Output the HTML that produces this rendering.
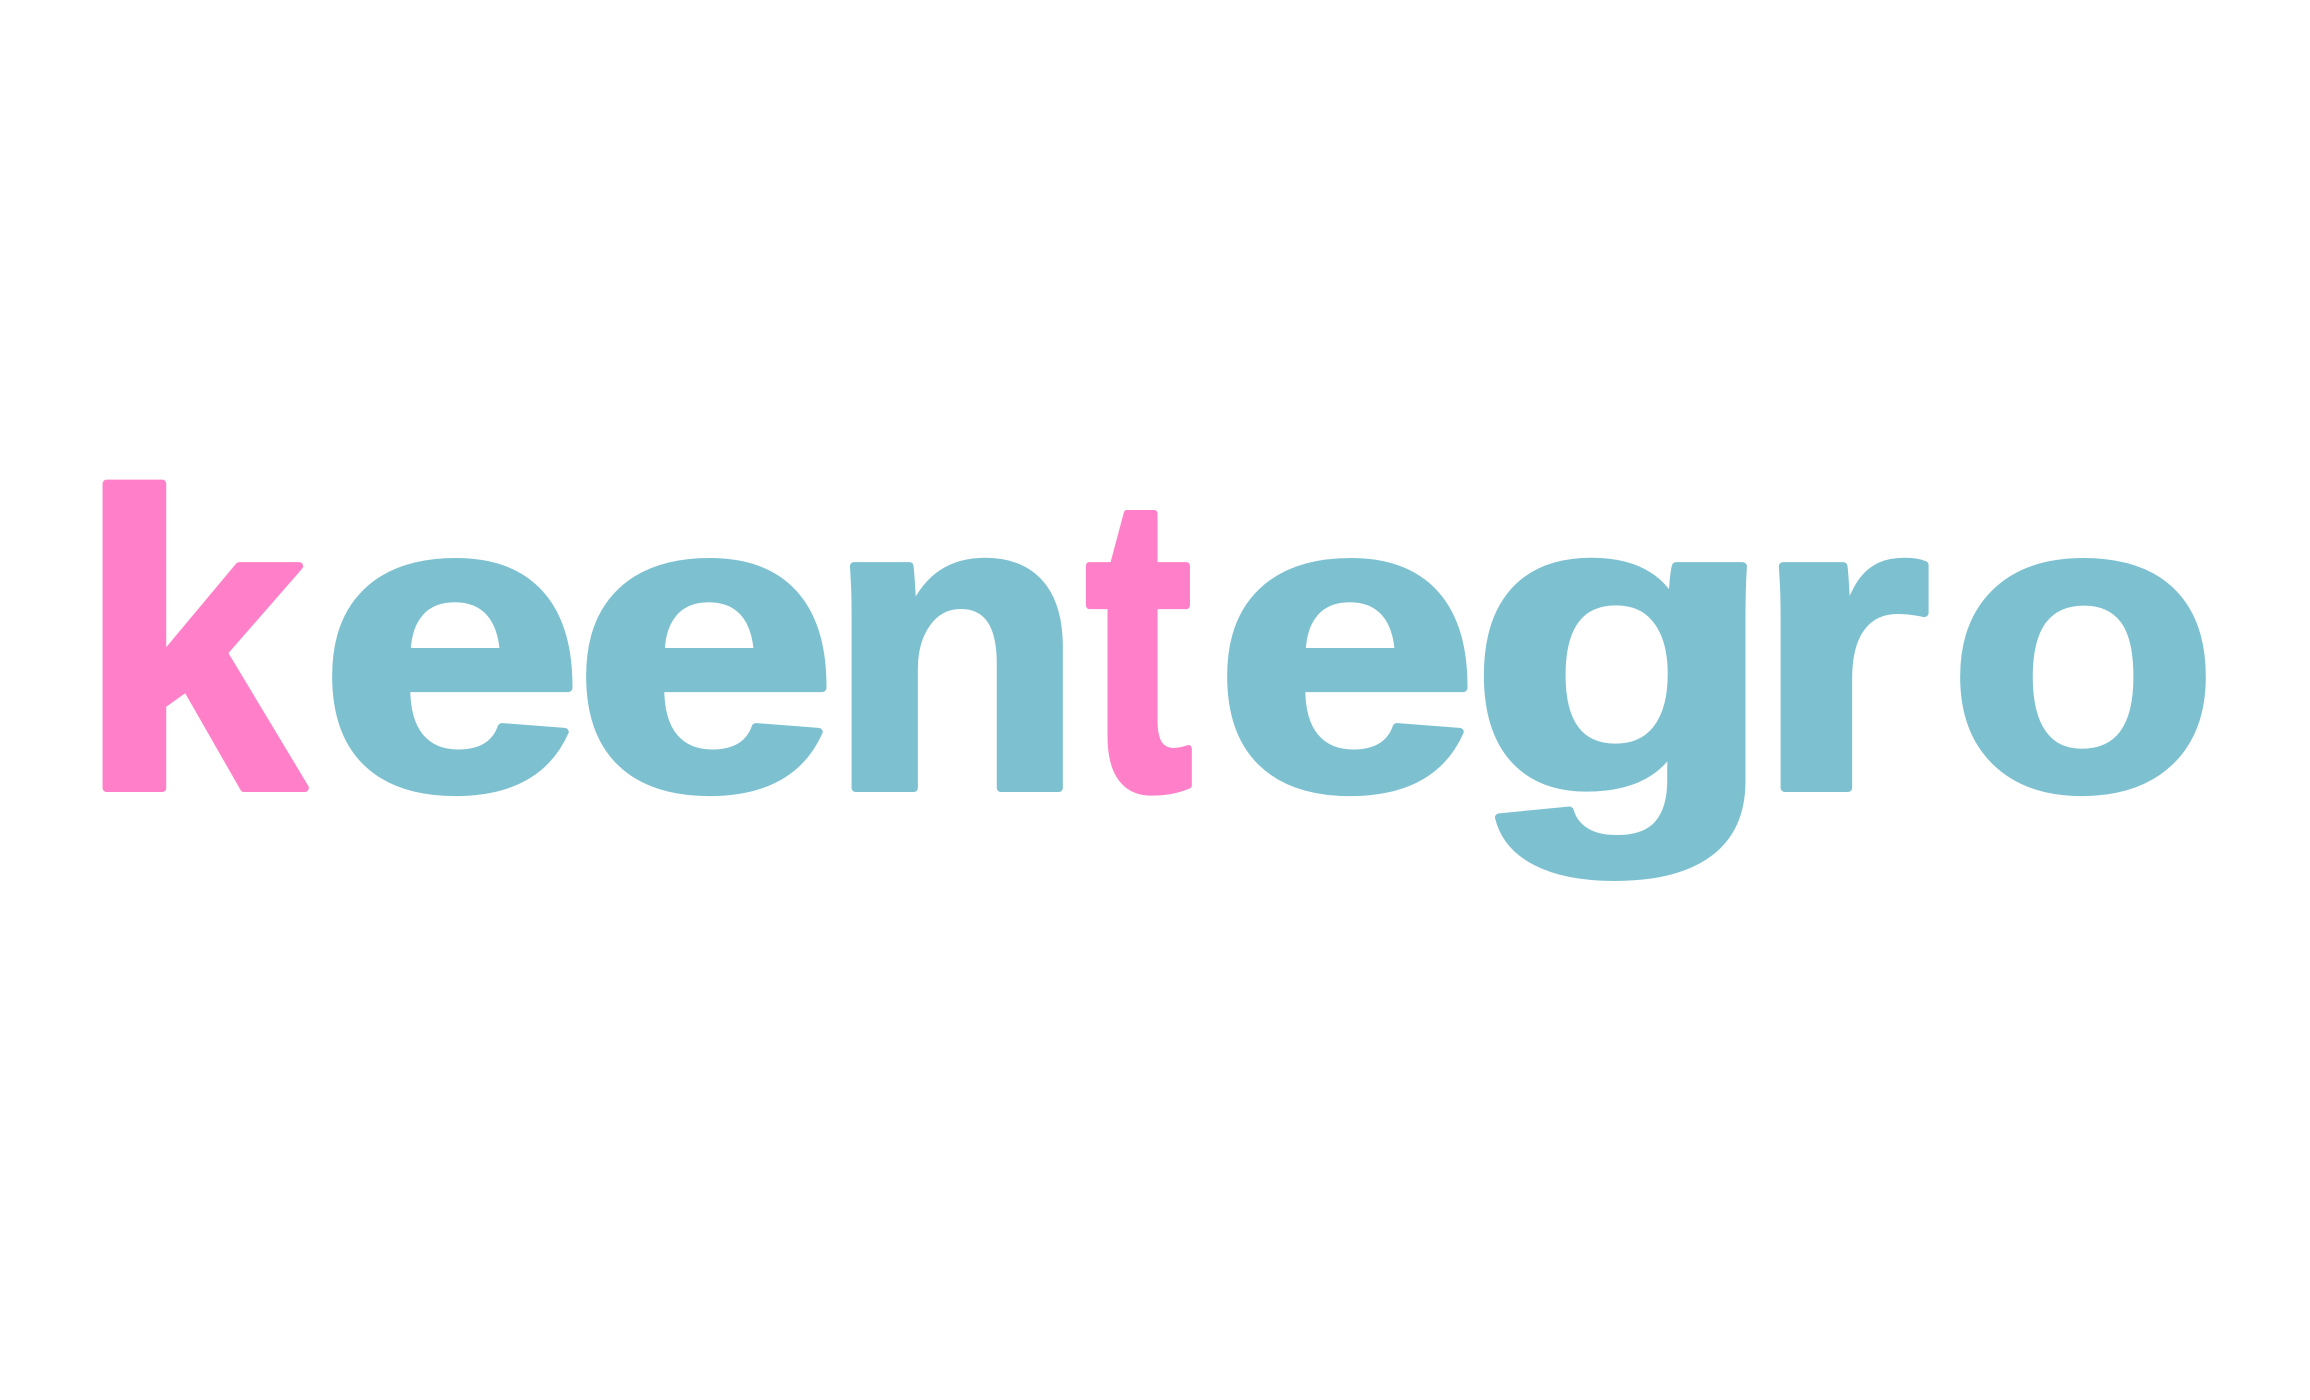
<!DOCTYPE html>
<html>
<head>
<meta charset="utf-8">
<style>
  html,body{margin:0;padding:0;background:#ffffff;}
  svg{display:block;}
  text{font-family:"Liberation Sans",sans-serif;font-weight:bold;stroke-linejoin:round;}
</style>
</head>
<body>
<svg width="2310" height="1400" viewBox="0 0 2310 1400">
  <rect width="2310" height="1400" fill="#ffffff"/>
  <g font-size="420" stroke-width="8">
    <text x="0" y="788" transform="translate(78,0) scale(0.97,1)" fill="#FF80C8" stroke="#FF80C8">k</text>
    <text x="0" y="788" transform="translate(318,0) scale(1.14,1)" fill="#7DC1D1" stroke="#7DC1D1">e</text>
    <text x="0" y="788" transform="translate(572,0) scale(1.14,1)" fill="#7DC1D1" stroke="#7DC1D1">e</text>
    <text x="0" y="788" transform="translate(826,0) scale(1.01,1)" fill="#7DC1D1" stroke="#7DC1D1">n</text>
    <text x="0" y="788" transform="translate(1085,0) scale(0.77,1)" fill="#FF80C8" stroke="#FF80C8">t</text>
    <text x="0" y="788" transform="translate(1213,0) scale(1.14,1)" fill="#7DC1D1" stroke="#7DC1D1">e</text>
    <text x="0" y="788" transform="translate(1468,0) scale(1.20,1)" fill="#7DC1D1" stroke="#7DC1D1">g</text>
    <text x="0" y="788" transform="translate(1753,0) scale(1.09,1)" fill="#7DC1D1" stroke="#7DC1D1">r</text>
    <text x="0" y="788" transform="translate(1947,0) scale(1.06,1)" fill="#7DC1D1" stroke="#7DC1D1">o</text>
  </g>
</svg>
</body>
</html>
